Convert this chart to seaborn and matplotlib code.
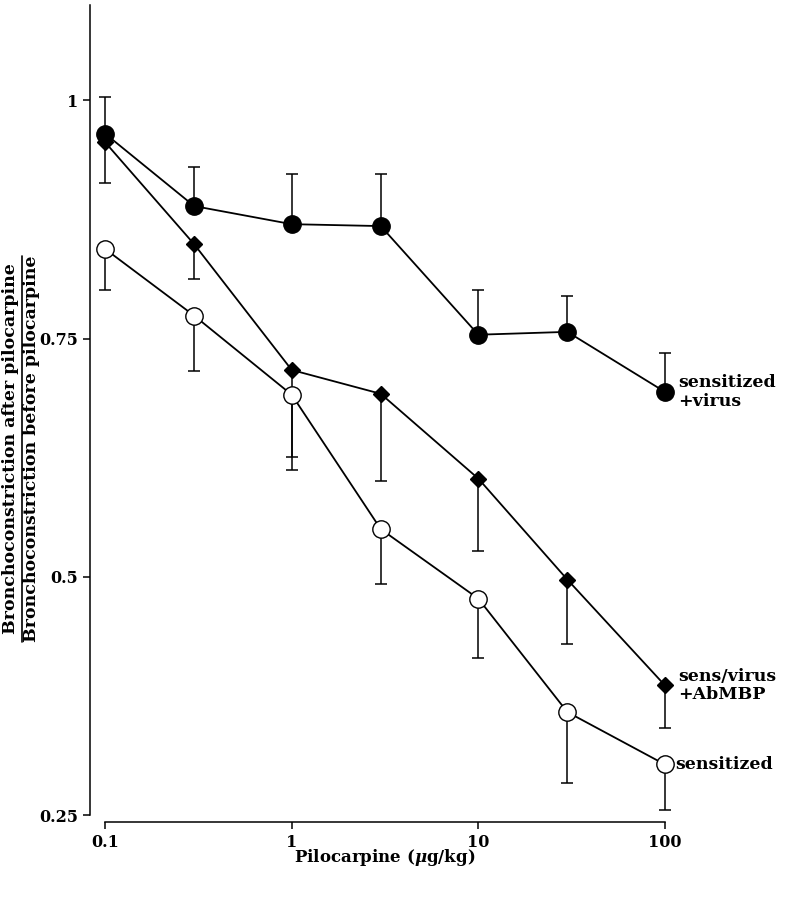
import pandas as pd
import matplotlib
matplotlib.use("Agg")
import matplotlib.pyplot as plt
import matplotlib.ticker as mticker
from matplotlib.lines import Line2D
import seaborn as sns

# Data
DOSE = [0.1, 0.3, 1, 3, 10, 30, 100]
SENS_VIRUS = [0.965, 0.889, 0.870, 0.868, 0.754, 0.757, 0.694]
SENS_VIRUS_ERR = [0.038, 0.041, 0.053, 0.055, 0.047, 0.038, 0.041]   # upward
SENS_VIRUS_AB = [0.956, 0.849, 0.717, 0.692, 0.603, 0.497, 0.386]
SENS_VIRUS_AB_ERR = [0.043, 0.037, 0.091, 0.091, 0.076, 0.068, 0.045]  # downward
SENS = [0.844, 0.774, 0.691, 0.550, 0.477, 0.358, 0.303]
SENS_ERR = [0.043, 0.058, 0.079, 0.058, 0.062, 0.074, 0.048]  # downward

X_TICKS = [0.1, 1, 10, 100]
X_TICK_LABELS = ["0.1", "1", "10", "100"]
Y_TICKS = [0.25, 0.5, 0.75, 1]
Y_TICK_LABELS = ["0.25", "0.5", "0.75", "1"]

sns.set_style("ticks")
plt.rcParams.update({
    "font.family": "DejaVu Serif",
    "font.weight": "bold",
    "mathtext.fontset": "dejavuserif",
    "text.color": "black",
    "axes.labelcolor": "black",
    "axes.edgecolor": "black",
    "xtick.color": "black",
    "ytick.color": "black",
    "axes.linewidth": 1.1,
    "xtick.major.width": 1.1,
    "ytick.major.width": 1.1,
    "xtick.major.size": 5,
    "ytick.major.size": 5,
    "xtick.direction": "out",
    "ytick.direction": "out",
})

df = pd.DataFrame({
    "dose": DOSE * 3,
    "ratio": SENS_VIRUS + SENS_VIRUS_AB + SENS,
    "group": ["virus"] * 7 + ["ab"] * 7 + ["sens"] * 7,
})

fig = plt.figure(figsize=(7.85, 9), dpi=100)
ax = fig.add_axes([90 / 785, 85 / 900, 664 / 785, 810 / 900])
ax.set_xscale("log")

# error bars (one-sided), drawn under markers
eb = dict(fmt="none", ecolor="black", elinewidth=1.1, capsize=4, capthick=1.1, zorder=1)
ax.errorbar(DOSE, SENS_VIRUS, yerr=[[0] * 7, SENS_VIRUS_ERR], **eb)
ax.errorbar(DOSE, SENS_VIRUS_AB, yerr=[SENS_VIRUS_AB_ERR, [0] * 7], **eb)
ax.errorbar(DOSE, SENS, yerr=[SENS_ERR, [0] * 7], **eb)

styles = {
    "virus": dict(marker="o", markersize=12.5, markerfacecolor="black"),
    "ab": dict(marker="D", markersize=8.5, markerfacecolor="black"),
    "sens": dict(marker="o", markersize=12.5, markerfacecolor="white"),
}
for g, kw in styles.items():
    sns.lineplot(data=df[df["group"] == g], x="dose", y="ratio", ax=ax,
                 color="black", linewidth=1.3, markeredgecolor="black",
                 markeredgewidth=1.0, zorder=3, legend=False, **kw)

ax.set_xlim(0.083, 300)
ax.set_ylim(0.25, 1.1)
ax.set_xticks(X_TICKS)
ax.set_xticklabels(X_TICK_LABELS)
ax.xaxis.set_minor_locator(mticker.NullLocator())
ax.set_yticks(Y_TICKS)
ax.set_yticklabels(Y_TICK_LABELS)
ax.tick_params(labelsize=11.5)

for s in ["top", "right"]:
    ax.spines[s].set_visible(False)
ax.spines["bottom"].set_position(("outward", 5))
ax.spines["bottom"].set_bounds(0.1, 100)
ax.spines["left"].set_bounds(0.25, 1.1)

ax.set_xlabel("")
ax.set_ylabel("")

# end labels
lbl = dict(fontsize=12.5, fontweight="bold", va="center", ha="left",
           linespacing=1.1, clip_on=False)
ax.text(118, SENS_VIRUS[-1], "sensitized\n+virus", **lbl)
ax.text(118, SENS_VIRUS_AB[-1], "sens/virus\n+AbMBP", **lbl)
ax.text(113, SENS[-1], "sensitized", **lbl)

# x label
fig.text(385 / 785, 1 - 858 / 900, r"Pilocarpine ($\mu$g/kg)",
         ha="center", va="center", fontsize=12, fontweight="bold")

# y label as a fraction
yc = 1 - 449 / 900
fig.text(11 / 785, yc, "Bronchoconstriction after pilocarpine", rotation=90,
         ha="center", va="center", fontsize=12.5, fontweight="bold")
fig.text(32 / 785, yc, "Bronchoconstriction before pilocarpine", rotation=90,
         ha="center", va="center", fontsize=12.5, fontweight="bold")
fig.add_artist(Line2D([21.5 / 785, 21.5 / 785], [1 - 642 / 900, 1 - 256 / 900],
                      color="black", linewidth=1.2, transform=fig.transFigure))

fig.savefig("out.png", dpi=100)
